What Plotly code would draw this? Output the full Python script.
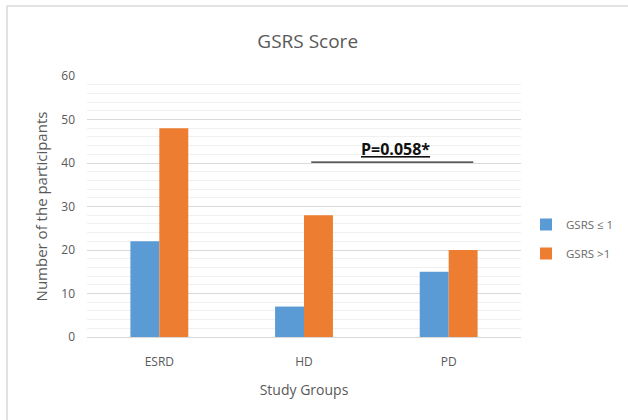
import plotly.graph_objects as go

categories = ["ESRD", "HD", "PD"]
gsrs_le1 = [22, 7, 15]
gsrs_gt1 = [48, 28, 20]
series_names = ["GSRS ≤ 1", "GSRS >1"]
y_ticks = [0, 10, 20, 30, 40, 50, 60]
p_label = "P=0.058*"

BLUE = "#5B9BD5"
ORANGE = "#ED7D31"
TXT = "#595959"
FONT = "Open Sans"

# plot area in pixels: x 87..521, y 76..337
L, R, T, B = 87, 521, 76, 337
PW, PH = R - L, B - T

fig = go.Figure()
fig.add_trace(go.Bar(x=categories, y=gsrs_le1, name=series_names[0],
                     marker=dict(color=BLUE, line=dict(width=0)), legendgroup="a"))
fig.add_trace(go.Bar(x=categories, y=gsrs_gt1, name=series_names[1],
                     marker=dict(color=ORANGE, line=dict(width=0)), legendgroup="b"))

fig.update_layout(
    width=628, height=420,
    margin=dict(l=L, r=628 - R, t=T, b=420 - B, pad=0, autoexpand=False),
    paper_bgcolor="white", plot_bgcolor="white",
    font=dict(family=FONT, color=TXT, size=12),
    title=dict(text="GSRS Score", x=0.49, xanchor="center", y=1 - 41 / 420, yanchor="middle",
               font=dict(size=19, color=TXT, family=FONT)),
    barmode="group", bargap=0.6, bargroupgap=0,
    legend=dict(x=(526 - L) / PW, xanchor="left", y=(B - 210) / PH, yanchor="top",
                font=dict(size=11.5, color="#6a6a6a"), tracegroupgap=10,
                itemwidth=30, bgcolor="rgba(0,0,0,0)"),
    xaxis=dict(title=dict(text="Study Groups", font=dict(size=14, color=TXT), standoff=15),
               showgrid=False, showline=True, linecolor="#d9d9d9", linewidth=1,
               ticks="", ticklabelstandoff=14, tickfont=dict(size=12, color=TXT),
               range=[-0.5, 2.5]),
    yaxis=dict(title=dict(text="Number of the participants", font=dict(size=15, color=TXT), standoff=10),
               range=[0, 60], tickvals=y_ticks, showgrid=True, gridcolor="#d9d9d9",
               gridwidth=1, zeroline=False, showline=False, ticks="",
               ticklabelstandoff=11, tickfont=dict(size=12, color=TXT),
               minor=dict(dtick=2, showgrid=True, gridcolor="#f0f0f0", gridwidth=1)),
)

fig.add_shape(type="line", xref="x", yref="y", x0=1.05, x1=2.17, y0=40.2, y1=40.2,
              line=dict(color="#222222", width=1.2))
fig.add_annotation(x=1.63, y=40.2, xref="x", yref="y", text="<b><u>" + p_label + "</u></b>",
                   showarrow=False, yanchor="bottom", yshift=0,
                   font=dict(size=16, color="#111111", family=FONT))

# outer chart border (top and left edges visible)
fig.add_shape(type="line", xref="paper", yref="paper",
              x0=(7 - L) / PW, x1=(640 - L) / PW, y0=(B - 6) / PH, y1=(B - 6) / PH,
              line=dict(color="#d9d9d9", width=1.5), layer="below")
fig.add_shape(type="line", xref="paper", yref="paper",
              x0=(7 - L) / PW, x1=(7 - L) / PW, y0=(B - 6) / PH, y1=(B - 430) / PH,
              line=dict(color="#d9d9d9", width=1.5), layer="below")

fig.write_html("out.html", config={"displayModeBar": False},
               post_script="document.body.style.margin='0';")
